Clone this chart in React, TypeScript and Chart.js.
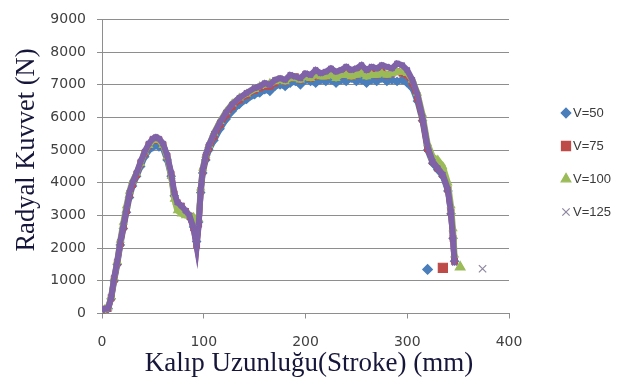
import React, { useEffect, useRef } from "react";
import { Chart, registerables } from "chart.js";
import { drawPoint } from "chart.js/helpers";

Chart.register(...registerables);

// Stroke positions (mm)
const strokeX = [0, 3, 6, 9, 12, 15, 18, 21, 24, 27, 30, 34, 38, 42, 46, 50, 53, 56, 60, 64, 68, 71, 74, 78, 82, 86, 90, 93, 95, 97, 99, 102, 105, 110, 116, 122, 128, 135, 142,
  150, 155, 160, 165, 170, 175, 180, 185, 190, 195, 200, 205, 210, 215, 220, 225, 230, 235, 240, 245, 250, 255, 260, 265, 270, 275, 280, 285, 290, 295, 300,
  305, 310, 315, 320, 325, 330, 335, 340, 343, 345, 346.5];

// Radial force (N) per speed
const forceV50 = [100, 120, 150, 450, 1000, 1500, 2100, 2600, 3100, 3550, 3900, 4200, 4500, 4800, 5000, 5100, 5150, 5100, 5050, 4700, 4200, 3600, 3350, 3250, 3100, 2950, 2650, 2200, 2800, 3700, 4300, 4700, 5000, 5300, 5650, 5950, 6200, 6400, 6550,
  6700, 6750, 6850, 6800, 6950, 7000, 6950, 7050, 7100, 7000, 7150, 7100, 7050, 7150, 7100, 7150, 7050, 7150, 7100, 7200, 7100, 7150, 7050, 7150, 7100, 7200, 7100, 7150, 7100, 7150, 7050,
  6900, 6500, 5900, 5000, 4600, 4400, 4200, 3750, 3050, 2300, 1600];
const forceV75 = [100, 130, 150, 480, 1050, 1550, 2150, 2650, 3150, 3650, 3950, 4250, 4600, 4900, 5150, 5300, 5350, 5300, 5150, 4800, 4250, 3650, 3380, 3280, 3120, 2980, 2620, 2100, 2750, 3750, 4350, 4780, 5080, 5420, 5780, 6080, 6330, 6530, 6680,
  6830, 6900, 6950, 6950, 7050, 7150, 7100, 7200, 7250, 7150, 7300, 7200, 7250, 7300, 7250, 7350, 7250, 7300, 7350, 7250, 7300, 7400, 7300, 7350, 7300, 7400, 7300, 7350, 7400, 7350, 7300,
  7050, 6600, 5950, 5050, 4650, 4450, 4250, 3800, 3100, 2300, 1600];
const forceV100 = [100, 140, 180, 520, 1100, 1600, 2250, 2800, 3300, 3750, 4050, 4300, 4600, 4950, 5150, 5300, 5350, 5300, 5150, 4800, 4200, 3500, 3150, 3050, 3000, 3000, 2950, 2700, 2900, 3850, 4450, 4850, 5150, 5520, 5880, 6180, 6420, 6600, 6720,
  6860, 6950, 7000, 7050, 7100, 7150, 7100, 7200, 7200, 7150, 7250, 7200, 7300, 7250, 7250, 7300, 7200, 7300, 7300, 7250, 7300, 7350, 7250, 7300, 7300, 7350, 7300, 7350, 7400, 7400, 7350,
  7150, 6750, 6100, 5200, 4800, 4700, 4500, 4000, 3300, 2600, 1800];
const forceV125 = [100, 150, 150, 500, 1100, 1600, 2200, 2700, 3200, 3700, 4000, 4300, 4650, 4950, 5200, 5350, 5400, 5350, 5200, 4850, 4300, 3700, 3400, 3300, 3150, 3000, 2600, 2050, 2700, 3800, 4400, 4850, 5150, 5500, 5850, 6150, 6400, 6600, 6750,
  6900, 6950, 7050, 7000, 7150, 7200, 7150, 7300, 7250, 7200, 7350, 7300, 7450, 7350, 7400, 7500, 7400, 7450, 7550, 7450, 7500, 7600, 7450, 7550, 7500, 7600, 7550, 7500, 7650, 7600, 7450,
  7150, 6700, 6000, 5100, 4650, 4450, 4250, 3800, 3100, 2300, 1550];

// Isolated end markers
const endX = [320, 335, 352, 374];
const endY = [1350, 1400, 1420, 1370];

const seriesLabels = ["V=50", "V=75", "V=100", "V=125"];
const seriesColors = ["#4a7ebb", "#be4b48", "#9bbb59", "#7f62a8"];
const markerColors = ["#4a7ebb", "#be4b48", "#9bbb59", "#8f86a0"];
const markerStyles = ["rectRot", "rect", "triangle", "crossRot"];
const markerRadius = [4.8, 6.4, 5.6, 5.2];

const xTicks = [0, 100, 200, 300, 400];
const yTicks = [0, 1000, 2000, 3000, 4000, 5000, 6000, 7000, 8000, 9000];

const xTitle = "Kalıp Uzunluğu(Stroke) (mm)";
const yTitle = "Radyal Kuvvet (N)";

const seriesValues = [forceV50, forceV75, forceV100, forceV125];

const titleFont = "27px 'Liberation Serif', 'Times New Roman', serif";
const titleColor = "#16163a";

const decorations = {
  id: "decorations",
  afterDraw(chart: any) {
    const ctx = chart.ctx;
    ctx.save();
    // legend
    seriesLabels.forEach((label, i) => {
      const y = 113 + i * 33;
      ctx.fillStyle = markerColors[i];
      ctx.strokeStyle = markerColors[i];
      ctx.lineWidth = 1.2;
      drawPoint(ctx, { pointStyle: markerStyles[i], radius: markerRadius[i], borderWidth: 1.2, rotation: 0 } as any, 566, y);
      ctx.fillStyle = "#3a3a3a";
      ctx.font = "13px 'Liberation Sans', Arial, sans-serif";
      ctx.textAlign = "left";
      ctx.textBaseline = "middle";
      ctx.fillText(label, 573, y + 0.5);
    });
    // axis titles
    ctx.fillStyle = titleColor;
    ctx.font = titleFont;
    ctx.textAlign = "center";
    ctx.textBaseline = "middle";
    ctx.fillText(xTitle, 309, 364);
    ctx.translate(27, 150);
    ctx.rotate(-Math.PI / 2);
    ctx.font = "26.5px 'Liberation Serif', 'Times New Roman', serif";
    ctx.fillText(yTitle, 0, 0);
    ctx.restore();
  },
};

export default function App() {
  const ref = useRef<HTMLCanvasElement | null>(null);
  useEffect(() => {
    document.body.style.margin = "0";
    const canvas = ref.current!;
    const bandSets = seriesValues.map((vals, i) => ({
      label: seriesLabels[i],
      data: strokeX.map((x, k) => ({ x, y: vals[k] })),
      showLine: true,
      borderColor: seriesColors[i],
      backgroundColor: seriesColors[i],
      borderWidth: 6,
      pointStyle: markerStyles[i],
      pointRadius: 3.6,
      pointBorderWidth: 1.8,
      tension: 0,
      order: 3 - i + 4,
    }));
    const endSets = endX.map((x, i) => ({
      label: seriesLabels[i] + " end",
      data: [{ x, y: endY[i] }],
      showLine: false,
      pointStyle: markerStyles[i],
      pointRadius: markerRadius[i],
      borderWidth: 1.2,
      borderColor: markerColors[i],
      backgroundColor: markerColors[i],
      order: 0,
    }));
    const tickFont = { family: "'DejaVu Sans', sans-serif", size: 14 };
    const chart = new Chart(canvas, {
      type: "scatter",
      data: { datasets: [...bandSets, ...endSets] as any },
      options: {
        animation: false,
        responsive: false,
        layout: { padding: { top: 12, right: 128, left: 0, bottom: 0 } },
        plugins: { legend: { display: false }, tooltip: { enabled: false } },
        scales: {
          x: {
            type: "linear",
            min: 0,
            max: 400,
            afterBuildTicks: (s: any) => { s.ticks = xTicks.map((v) => ({ value: v })); },
            afterFit: (s: any) => { s.height = 68.5; },
            ticks: { color: "#404040", font: tickFont, padding: 15, callback: (v: any) => String(v) },
            grid: { drawOnChartArea: false, drawTicks: true, tickLength: 5, color: "#8e8e8e" },
            border: { display: true, color: "#8e8e8e" },
          },
          y: {
            type: "linear",
            min: 0,
            max: 9000,
            afterBuildTicks: (s: any) => { s.ticks = yTicks.map((v) => ({ value: v })); },
            afterFit: (s: any) => { s.width = 102; },
            ticks: { color: "#404040", font: tickFont, padding: 11, callback: (v: any) => String(v) },
            grid: { color: "#8e8e8e", tickLength: 5 },
            border: { display: true, color: "#8e8e8e" },
          },
        },
      },
      plugins: [decorations],
    });
    return () => chart.destroy();
  }, []);
  return <canvas ref={ref} width={637} height={382} style={{ display: "block", width: 637, height: 382 }} />;
}
